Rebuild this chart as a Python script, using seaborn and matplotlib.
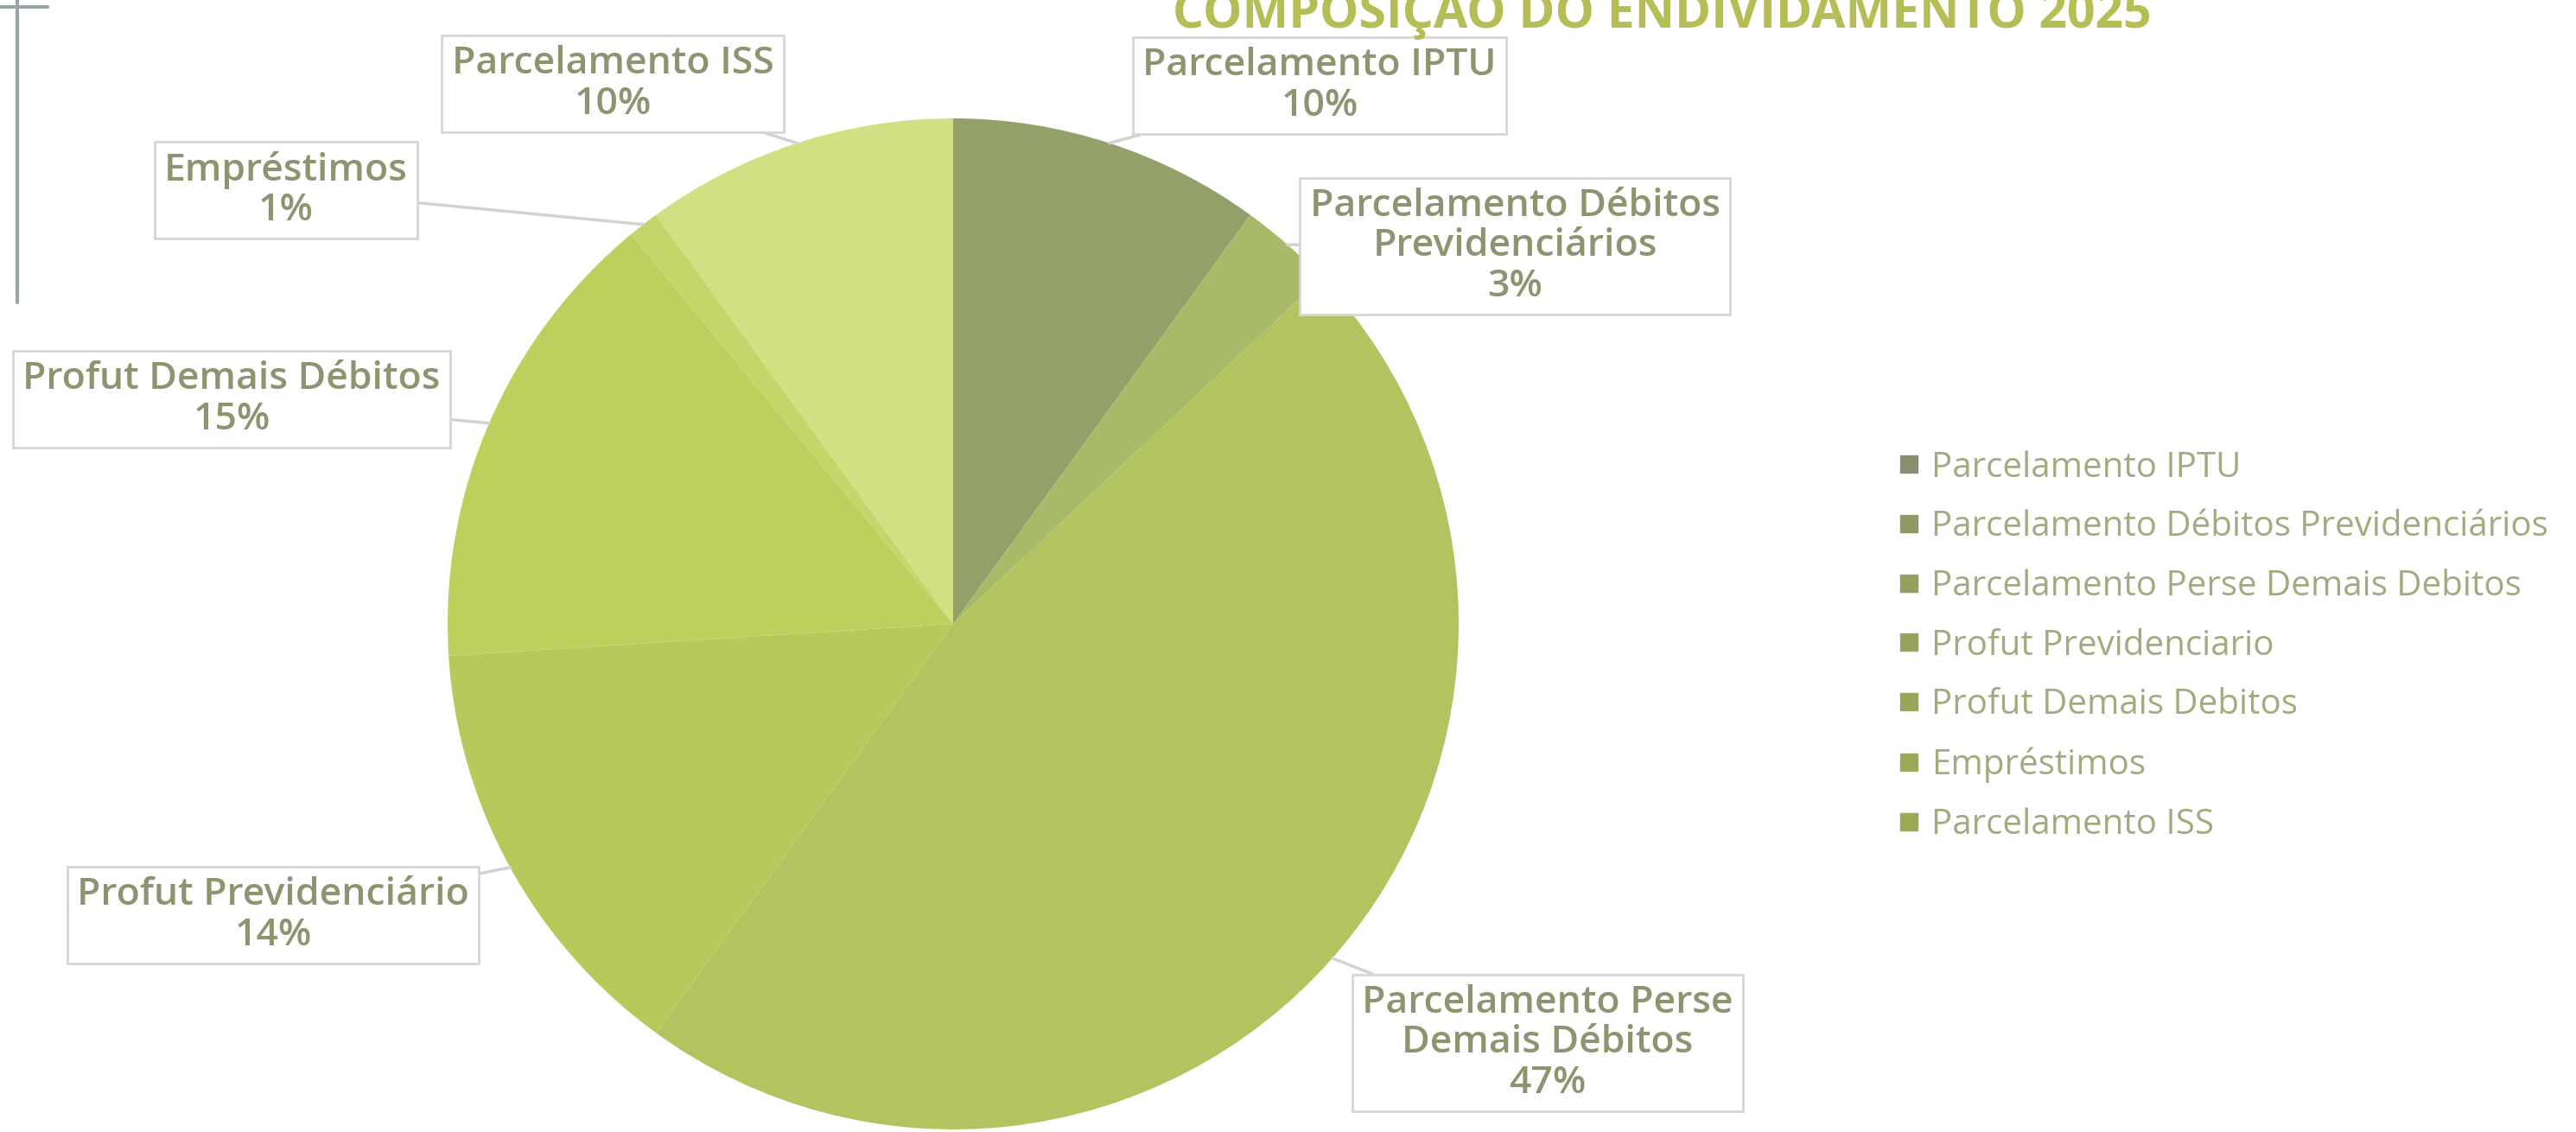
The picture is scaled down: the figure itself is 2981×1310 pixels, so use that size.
import numpy as np
import matplotlib
matplotlib.use("Agg")
import matplotlib.pyplot as plt
from matplotlib.lines import Line2D
import seaborn as sns

# data
categories = [
    "Parcelamento IPTU",
    "Parcelamento Débitos Previdenciários",
    "Parcelamento Perse Demais Debitos",
    "Profut Previdenciario",
    "Profut Demais Debitos",
    "Empréstimos",
    "Parcelamento ISS",
]
label_names = [
    "Parcelamento IPTU",
    "Parcelamento Débitos\nPrevidenciários",
    "Parcelamento Perse\nDemais Débitos",
    "Profut Previdenciário",
    "Profut Demais Débitos",
    "Empréstimos",
    "Parcelamento ISS",
]
shares = [10, 3, 47, 14, 15, 1, 10]
colors = ["#93a06a", "#a8b967", "#b2c460", "#b7c95b", "#bfcf5e", "#c6d56a", "#d2df82"]
title = "COMPOSIÇÃO DO ENDIVIDAMENTO 2025"

# label box centres in figure pixels (x from left, y from top)
label_pos = [(1527, 99), (1753, 285), (1791, 1207), (316, 1059), (268, 462), (331, 220), (709, 97)]

W, H = 2981, 1310
sns.set_theme(style="white")
plt.rcParams["font.family"] = ["Open Sans", "DejaVu Sans"]

fig = plt.figure(figsize=(W / 100, H / 100), dpi=100)
fig.patch.set_facecolor("white")

# pie placed so its centre is at (1103, 722) px with radius 585 px
cx, cy, r = 1103, 722, 585
ax = fig.add_axes([(cx - r) / W, (H - cy - r) / H, 2 * r / W, 2 * r / H])
wedges, _ = ax.pie(shares, colors=colors, startangle=90, counterclock=False,
                   wedgeprops=dict(linewidth=0))
ax.set_xlim(-1, 1)
ax.set_ylim(-1, 1)
ax.set_aspect("auto")
ax.axis("off")

text_col = "#8e9370"
for w, name, share, (px, py) in zip(wedges, label_names, shares, label_pos):
    mid = np.deg2rad((w.theta1 + w.theta2) / 2)
    ax.annotate(f"{name}\n{share}%",
                xy=(np.cos(mid), np.sin(mid)), xycoords="data",
                xytext=(px / W, 1 - py / H), textcoords="figure fraction",
                ha="center", va="center", fontsize=32, color=text_col,
                fontweight="semibold", linespacing=1.1,
                bbox=dict(boxstyle="square,pad=0.25", fc="white", ec="#d6d6d6", lw=2),
                arrowprops=dict(arrowstyle="-", color="#d2d2d2", lw=2.5,
                                shrinkA=0, shrinkB=0),
                annotation_clip=False)

# legend squares look greyer and darker than the slices in the photo
marker_cols = [sns.set_hls_values(sns.desaturate(c, 0.55), l=0.5) for c in colors]
handles = [Line2D([], [], marker="s", linestyle="none", markersize=14,
                  markerfacecolor=c, markeredgecolor=c) for c in marker_cols]
leg = fig.legend(handles, categories, loc="upper left",
                 bbox_to_anchor=(2197 / W, 1 - 521 / H),
                 frameon=False, fontsize=29, handlelength=0.6, handletextpad=0.35,
                 labelspacing=0.7, borderpad=0, borderaxespad=0)
for t in leg.get_texts():
    t.set_color("#a4a980")

# title sits partly outside the top edge, as in the photo of the slide
fig.text(2490 / W, 1 - 32 / H, title, ha="right", va="baseline",
         fontsize=41, fontweight="bold", color="#b5bd55")

# slide decoration on the left
fig.add_artist(Line2D([20 / W, 20 / W], [1, 1 - 350 / H], color="#9aa3a8", lw=3))
fig.add_artist(Line2D([0, 55 / W], [1 - 8 / H, 1 - 8 / H], color="#9aa3a8", lw=3))

fig.savefig("out.png", dpi=100, facecolor="white")
